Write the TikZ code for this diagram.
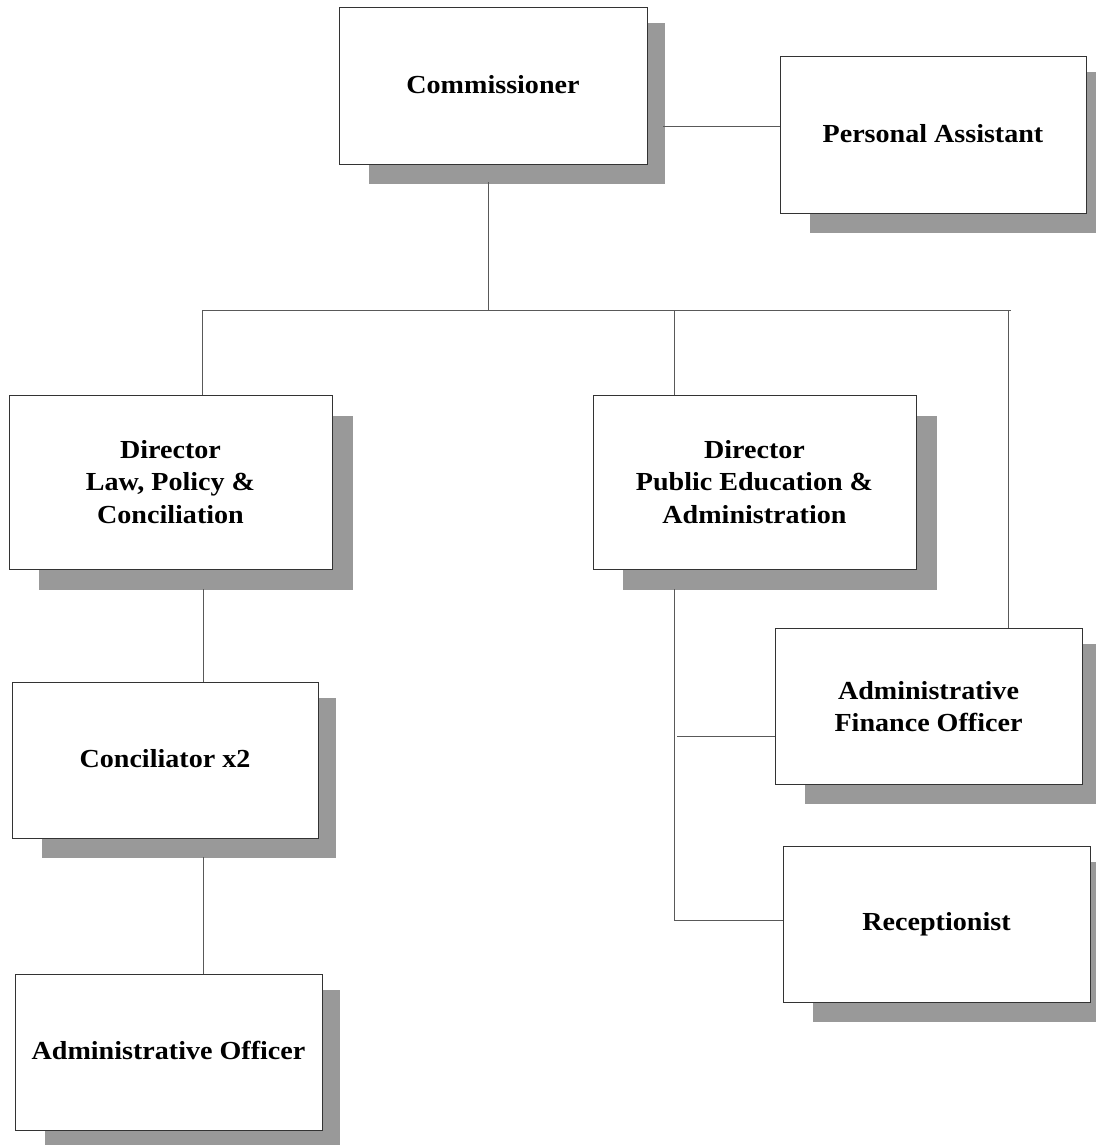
\documentclass[tikz,border=0pt]{standalone}
\usepackage{fontspec}
\setmainfont{Liberation Serif}[FakeStretch=1.08]
\usetikzlibrary{calc,backgrounds}
\newcommand{\upline}[1]{\raisebox{4pt}{#1}}
\tikzset{
  box/.style={draw=black!80, line width=1pt, fill=white, inner sep=0pt, align=center,
    font=\fontsize{26}{32.5}\selectfont\bfseries},
  smallbox/.style={box, minimum width=307pt, minimum height=156pt},
  bigbox/.style={box, minimum width=323pt, minimum height=174pt},
  conn/.style={draw=black!65, line width=1pt},
  shadowc/.style={fill=black!40}
}
\begin{document}
\begin{tikzpicture}[x=1pt,y=-1pt]
\useasboundingbox (0,0) rectangle (1095,1145);
% boxes (centres in pixel coordinates)
\node[smallbox, minimum width=308pt] (com) at (493,86) {\upline{Commissioner}};
\node[smallbox, minimum width=306pt] (pa) at (933,135) {\upline{Personal Assistant}};
\node[bigbox] (dlaw) at (170.5,482) {Director\\Law, Policy \&\\Conciliation};
\node[bigbox] (dpub) at (754.5,482) {Director\\Public Education \&\\Administration};
\node[smallbox] (afo) at (928.5,706.5) {Administrative\\Finance Officer};
\node[smallbox] (rec) at (936.5,924) {\upline{Receptionist}};
\node[smallbox, minimum width=306pt] (conc) at (165,760) {\upline{Conciliator x2}};
\node[smallbox] (ao) at (168.5,1052) {\upline{Administrative Officer}};
% shadows
\begin{pgfonlayer}{background}
\foreach \n in {com,pa,afo,rec,conc,ao}
  \fill[shadowc] ($(\n.south west)+(30,19)$) rectangle ($(\n.north east)+(17,16)$);
\foreach \n in {dlaw,dpub}
  \fill[shadowc] ($(\n.south west)+(30,20)$) rectangle ($(\n.north east)+(20,21)$);
\end{pgfonlayer}
% coordinates for connector ends
\coordinate (cbot) at (488,182);
\coordinate (comR) at (663,127);
\coordinate (busL) at (202.5,310);
\coordinate (busM) at (674,310);
\coordinate (busC) at (488,310);
\coordinate (busR) at (1011,310);
\coordinate (busRv) at (1008,310);
\coordinate (lawdown) at (203,589);
\coordinate (concdown) at (203,857);
\coordinate (pubdown) at (674,589);
\coordinate (afoL) at (677,736);
\coordinate (recL) at (674,920);
% connectors
\draw[conn] (cbot) -- (busC);
\draw[conn] (comR) -- (comR -| pa.west);
\draw[conn] (busL) -- (busR);
\draw[conn] (busL) -- (busL |- dlaw.north);
\draw[conn] (busM) -- (busM |- dpub.north);
\draw[conn] (busRv) -- (busRv |- afo.north);
\draw[conn] (lawdown) -- (lawdown |- conc.north);
\draw[conn] (concdown) -- (concdown |- ao.north);
\draw[conn] (pubdown) -- (recL) -- (recL -| rec.west);
\draw[conn] (afoL) -- (afoL -| afo.west);
\end{tikzpicture}
\end{document}
